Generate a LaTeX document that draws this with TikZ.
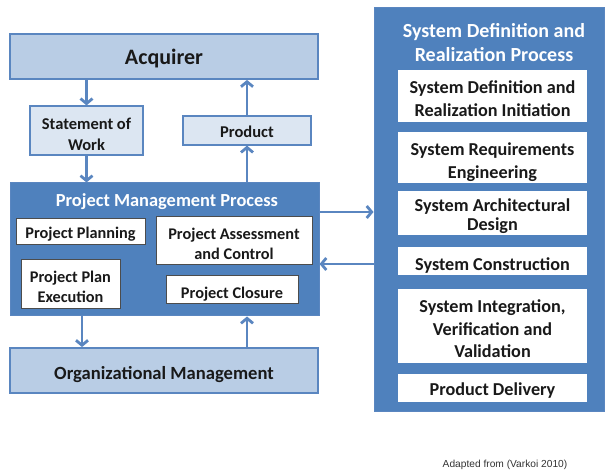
\documentclass[tikz,border=0pt]{standalone}
\usepackage{fontspec}
\setmainfont{Carlito}
\newfontfamily\notefont{Liberation Sans}
\usetikzlibrary{arrows.meta}
\definecolor{dblue}{HTML}{4F81BD}
\definecolor{lblue}{HTML}{B9CDE5}
\definecolor{llblue}{HTML}{DCE6F2}
\definecolor{lineblue}{HTML}{5A86C0}
\newcommand\dnstrut{\rule{0pt}{18.5pt}}
\newcommand\hstrut[1]{\rule{0pt}{#1pt}}
\tikzset{
  lbox/.style={draw=lineblue, line width=1.8pt, fill=lblue, inner sep=0pt, text depth=-1.5pt, font=\bfseries\fontsize{22}{26}\selectfont, text=black!90},
  sbox/.style={draw=lineblue, line width=1.2pt, fill=llblue, inner sep=0pt, text depth=-2.5pt, align=center, font=\bfseries\fontsize{16.5}{21}\selectfont, text=black!90},
  dbox/.style={draw=lineblue, line width=1pt, fill=dblue, inner sep=0pt},
  wbox/.style={draw=black!70, line width=0.6pt, fill=white, inner sep=0pt, text depth=-2.5pt, align=center, font=\bfseries\fontsize{16.3}{20}\selectfont, text=black!90},
  rbox/.style={draw=none, fill=white, inner sep=0pt, text depth=-2.5pt, align=center, font=\bfseries\fontsize{18.2}{22.5}\selectfont, text=black!90},
  ttl/.style={text=white, font=\bfseries\fontsize{18.4}{22}\selectfont},
  conn/.style={draw=lineblue, line width=2.8pt, -{Straight Barb[length=5pt,width=12pt]}}
}
\begin{document}
\begin{tikzpicture}[x=1pt,y=-1pt]
\useasboundingbox (0,0) rectangle (608,470);
\node[lbox, minimum width=308pt, minimum height=45pt] (acq) at (164,56.5) {Acquirer};
\node[sbox, minimum width=113pt, minimum height=49pt] (sow) at (86.5,130.5) {\dnstrut Statement of\\Work};
\node[sbox, minimum width=128pt, minimum height=29pt] (prod) at (247,130.5) {\hstrut{14.4}Product};
\node[dbox, minimum width=309pt, minimum height=133pt] (pmp) at (164.5,249.5) {};
\node[ttl] (pmpt) at (167,202) {Project Management Process};
\node[wbox, minimum width=129pt, minimum height=26pt] (pp) at (80.5,231) {\hstrut{14.3}Project Planning};
\node[wbox, minimum width=156pt, minimum height=48pt] (pac) at (234,240) {\dnstrut Project Assessment\\and Control};
\node[wbox, minimum width=99pt, minimum height=49pt] (ppe) at (70.5,283.5) {\dnstrut Project Plan\\Execution};
\node[wbox, minimum width=132pt, minimum height=28pt] (pc) at (232,289) {\hstrut{18.3}Project Closure};
\node[lbox, minimum width=308pt, minimum height=45pt, font=\bfseries\fontsize{18.6}{22}\selectfont] (om) at (164,370.5) {\hstrut{18}Organizational Management};
\node[dbox, minimum width=230pt, minimum height=403pt] (sdr) at (489,209.5) {};
\node[ttl, align=center, font=\bfseries\fontsize{20}{24}\selectfont] (sdrt) at (494,43) {System Definition and\\Realization Process};
\node[rbox, minimum width=189pt, minimum height=52pt] (b1) at (492.5,96) {\dnstrut System Definition and\\Realization Initiation};
\node[rbox, minimum width=189pt, minimum height=51pt] (b2) at (492.5,157.5) {\rule{0pt}{19.5pt}System Requirements\\Engineering};
\node[rbox, minimum width=189pt, minimum height=44pt, font=\bfseries\fontsize{18.2}{19}\selectfont] (b3) at (492.5,213) {\rule{0pt}{16.5pt}System Architectural\\Design};
\node[rbox, minimum width=189pt, minimum height=28pt] (b4) at (492.5,261) {\hstrut{19.7}System Construction};
\node[rbox, minimum width=189pt, minimum height=74pt] (b5) at (492.5,326) {\dnstrut System Integration,\\Verification and\\Validation};
\node[rbox, minimum width=189pt, minimum height=28pt] (b6) at (492.5,388) {\hstrut{15.7}Product Delivery};
\node[font=\notefont\fontsize{10.2}{12}\selectfont, text=black!80] (note) at (505,465) {Adapted from (Varkoi 2010)};
\draw[conn] (acq.south -| sow.north) -- (sow.north);
\draw[conn] (sow.south) -- (sow.south |- pmp.north);
\draw[conn] (prod.south |- pmp.north) -- (prod.south);
\draw[conn] (prod.north) -- (prod.north |- acq.south);
\coordinate (d1) at ([xshift=-82.5pt]pmp.south);
\coordinate (u1) at ([xshift=83pt]om.north);
\draw[conn] (d1) -- (d1 |- om.north);
\draw[conn] (u1) -- (u1 |- pmp.south);
\coordinate (r1) at ([yshift=37.5pt]pmp.east);
\coordinate (l1) at ([yshift=-14.5pt]sdr.west |- pmp.east);
\draw[conn] (r1) -- (r1 -| sdr.west);
\draw[conn] (l1) -- (l1 -| pmp.east);
\end{tikzpicture}
\end{document}
